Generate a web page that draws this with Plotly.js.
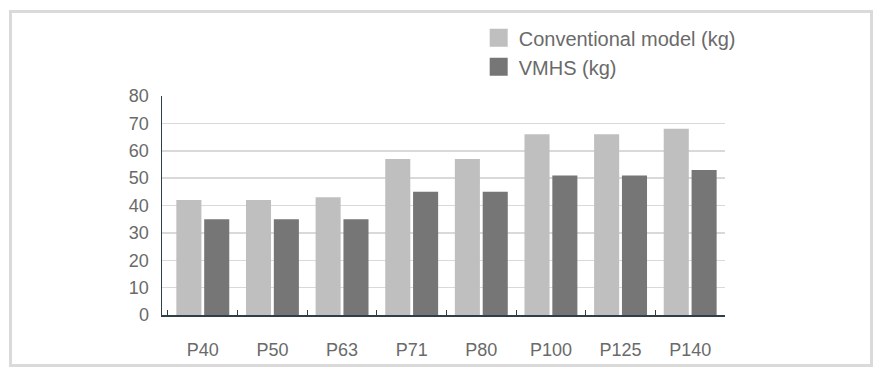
<!DOCTYPE html>
<html>
<head>
<meta charset="utf-8">
<script src="https://cdn.plot.ly/plotly-3.0.1.min.js"></script>
<style>
  html, body { margin: 0; padding: 0; background: #ffffff; }
  #wrap { position: relative; width: 894px; height: 377px; overflow: hidden; }
  #chart { position: absolute; left: 0; top: 0; width: 894px; height: 377px; }
  #frame { position: absolute; left: 9px; top: 10px; width: 858px; height: 351px;
           border: 3px solid #dadada; pointer-events: none; }
</style>
</head>
<body>
<div id="wrap">
  <div id="chart"></div>
  <div id="frame"></div>
</div>
<script>
const categories = ["P40", "P50", "P63", "P71", "P80", "P100", "P125", "P140"];
const conventional = [42, 42, 43, 57, 57, 66, 66, 68];
const vmhs = [35, 35, 35, 45, 45, 51, 51, 53];
const seriesNames = ["Conventional model (kg)", "VMHS (kg)"];
const yTicks = [0, 10, 20, 30, 40, 50, 60, 70, 80];

const lightColor = "#bfbfbf";
const darkColor = "#767676";
const textColor = "#6a6a6a";
const font = "Liberation Sans, Arial, sans-serif";

const traces = [
  { type: "bar", x: categories, y: conventional, name: seriesNames[0], showlegend: false,
    marker: { color: lightColor, line: { width: 0 } }, hoverinfo: "y" },
  { type: "bar", x: categories, y: vmhs, name: seriesNames[1], showlegend: false,
    marker: { color: darkColor, line: { width: 0 } }, hoverinfo: "y" },
  // legend entries
  { type: "scatter", mode: "markers", x: [null], y: [null], name: seriesNames[0],
    marker: { symbol: "square", size: 16, color: lightColor, line: { color: lightColor, width: 2 } } },
  { type: "scatter", mode: "markers", x: [null], y: [null], name: seriesNames[1],
    marker: { symbol: "square", size: 16, color: darkColor, line: { color: darkColor, width: 2 } } }
];

const layout = {
  width: 894, height: 377,
  margin: { l: 162, r: 169, t: 96, b: 62, pad: 0 },
  paper_bgcolor: "rgba(0,0,0,0)",
  plot_bgcolor: "rgba(0,0,0,0)",
  font: { family: font, color: textColor, size: 18 },
  barmode: "group",
  bargap: 0.2,
  bargroupgap: 0.1,
  showlegend: true,
  legend: {
    x: 0.5625, xanchor: "left", y: 1.355, yanchor: "top",
    font: { family: font, size: 20, color: textColor },
    bgcolor: "rgba(0,0,0,0)", borderwidth: 0,
    itemclick: false, itemdoubleclick: false
  },
  xaxis: {
    type: "category",
    range: [-0.586, 7.5],
    showline: true, linecolor: "#2f3f48", linewidth: 1.5,
    showgrid: false, zeroline: false,
    ticks: "inside", tickson: "boundaries", ticklen: 5, tickwidth: 1, tickcolor: "#2f3f48",
    tickfont: { family: font, size: 18, color: textColor },
    ticklabelstandoff: 18,
    fixedrange: true
  },
  yaxis: {
    range: [0, 80],
    tickvals: yTicks,
    ticktext: yTicks.map(String),
    showline: true, linecolor: "#2f3f48", linewidth: 1.5,
    showgrid: true, gridcolor: "#d9d9d9", gridwidth: 1.5,
    zeroline: false, ticks: "",
    tickfont: { family: font, size: 18, color: textColor },
    ticklabelstandoff: 8,
    fixedrange: true
  }
};

Plotly.newPlot("chart", traces, layout, { displayModeBar: false, staticPlot: true });
</script>
</body>
</html>
